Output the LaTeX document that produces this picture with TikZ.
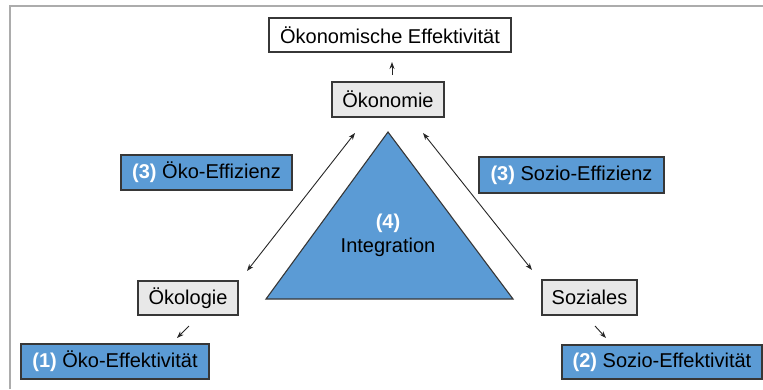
\documentclass[tikz,border=0pt]{standalone}
\usepackage{fontspec}
\setmainfont{Liberation Sans}
\usetikzlibrary{arrows.meta}
\definecolor{blu}{RGB}{91,155,213}
\definecolor{gbox}{RGB}{232,232,232}
\definecolor{edgec}{RGB}{55,55,55}
\definecolor{framec}{RGB}{172,172,172}
\begin{document}
\begin{tikzpicture}[x=1pt,y=-1pt,
  box/.style={draw=edgec,line width=1.1pt,inner sep=0pt,font=\fontsize{20}{23}\selectfont},
  whitebox/.style={box,fill=white},
  graybox/.style={box,fill=gbox},
  bluebox/.style={box,fill=blu},
  tip/.tip={Stealth[length=7pt,width=5pt]},
  arr/.style={line width=0.9pt,draw=black!85,-tip},
  darr/.style={line width=0.9pt,draw=black!85,tip-tip}
]
\useasboundingbox (0,0) rectangle (763,389);
% outer frame (only top and left edges visible)
\draw[framec,line width=2pt] (10,389) -- (10,6) -- (763,6);

% triangle
\coordinate (tA) at (388,132);
\coordinate (tL) at (266,299);
\coordinate (tR) at (513,299);
\draw[fill=blu,draw=edgec,line width=1.1pt,line join=miter] (tA) -- (tR) -- (tL) -- cycle;
\node[font=\fontsize{20}{23}\selectfont\bfseries,text=white] (n4) at (388,223) {(4)};
\node[font=\fontsize{20}{23}\selectfont] (integ) at (388,247) {Integration};

% boxes
\node[whitebox,minimum width=242pt,minimum height=34pt] (oekeff) at (390,35) {Ökonomische Effektivität};
\node[graybox,minimum width=112pt,minimum height=35pt] (oekon) at (388,99.5) {Ökonomie};
\node[bluebox,minimum width=171pt,minimum height=35pt] (oekoeffiz) at (206.5,172.5) {\textcolor{white}{\bfseries(3)} Öko-Effizienz};
\node[bluebox,minimum width=185pt,minimum height=36pt] (soziseffiz) at (571.5,175) {\textcolor{white}{\bfseries(3)} Sozio-Effizienz};
\node[graybox,minimum width=100pt,minimum height=34pt] (oekol) at (188,298) {Ökologie};
\node[graybox,minimum width=95pt,minimum height=35pt] (soz) at (589.5,297.5) {Soziales};
\node[bluebox,minimum width=188pt,minimum height=35pt] (oekoeff) at (115,361.5) {\textcolor{white}{\bfseries(1)} Öko-Effektivität};
\node[bluebox,minimum width=200pt,minimum height=34pt] (sozeff) at (662,362) {\textcolor{white}{\bfseries(2)} Sozio-Effektivität};

% connector end points
\coordinate (u1) at (392,75);
\coordinate (u2) at (392,62);
\coordinate (l1) at (247,271);
\coordinate (l2) at (355,133);
\coordinate (r1) at (423,133);
\coordinate (r2) at (532,270);
\coordinate (s1) at (189,326);
\coordinate (s2) at (177,338);
\coordinate (q1) at (595,326);
\coordinate (q2) at (606,338);

\draw[arr] (u1) -- (u2);
\draw[darr] (l1) -- (l2);
\draw[darr] (r1) -- (r2);
\draw[arr] (s1) -- (s2);
\draw[arr] (q1) -- (q2);
\end{tikzpicture}
\end{document}
